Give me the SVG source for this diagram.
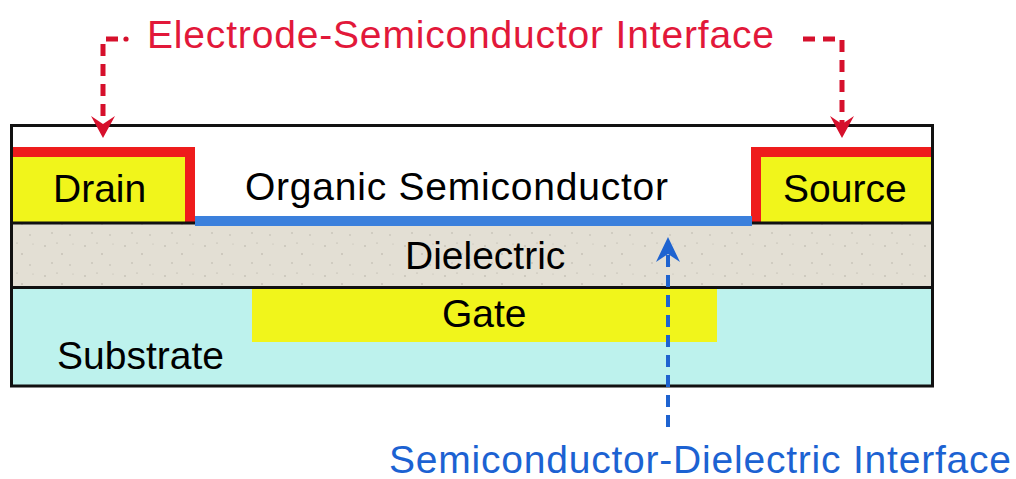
<svg xmlns="http://www.w3.org/2000/svg" width="1016" height="479" viewBox="0 0 1016 479">
<defs>
<style>
.t{font-family:"Liberation Sans",Arial,sans-serif;font-size:39px;fill:#000}
.yel{fill:#f1f51b}
.red{fill:#ee1c1c}
.ln{stroke:#111;stroke-width:3;fill:none}
.dr{stroke:#d6102c;stroke-width:5;fill:none;stroke-dasharray:12 8}
.db{stroke:#1e63d0;stroke-width:4;fill:none;stroke-dasharray:12 8}
</style>
<pattern id="speck" width="40" height="30" patternUnits="userSpaceOnUse">
<rect width="40" height="30" fill="#e3dfd4"/>
<circle cx="5" cy="6" r="0.8" fill="#b5b0a5"/>
<circle cx="22" cy="14" r="0.7" fill="#a9a498"/>
<circle cx="33" cy="4" r="0.6" fill="#c0bbb0"/>
<circle cx="12" cy="23" r="0.7" fill="#b0ab9f"/>
<circle cx="30" cy="25" r="0.8" fill="#bdb8ad"/>
<circle cx="17" cy="3" r="0.5" fill="#a29d92"/>
</pattern>
</defs>
<rect width="1016" height="479" fill="#fff"/>
<g id="substrate">
<rect x="11" y="287" width="922" height="99" fill="#bdf2ed"/>
<text class="t" x="57" y="369">Substrate</text>
</g>
<g id="gate">
<rect x="252" y="288" width="465" height="54" class="yel"/>
<text class="t" x="442" y="327">Gate</text>
</g>
<g id="dielectric">
<rect x="11" y="223" width="922" height="64" fill="url(#speck)"/>
<text class="t" x="405" y="269">Dielectric</text>
</g>
<g id="organic-semiconductor">
<rect x="11" y="125" width="922" height="98" fill="#fff"/>
<text class="t" x="245" y="200" font-size="40" textLength="423">Organic Semiconductor</text>
</g>
<g id="drain">
<rect x="11" y="157" width="174" height="66" class="yel"/>
<rect x="11" y="147" width="184" height="10" class="red"/>
<rect x="185" y="147" width="10" height="76" class="red"/>
<line x1="11" y1="223" x2="195" y2="223" class="ln"/>
<text class="t" x="53" y="202">Drain</text>
</g>
<g id="source">
<rect x="761" y="157" width="171" height="66" class="yel"/>
<rect x="751" y="147" width="181" height="10" class="red"/>
<rect x="751" y="147" width="10" height="76" class="red"/>
<line x1="751" y1="223" x2="933" y2="223" class="ln"/>
<text class="t" x="783" y="202">Source</text>
</g>
<g id="interface-line">
<rect x="195" y="216" width="557" height="10" fill="#3b80dc"/>
</g>
<g id="frame">
<line x1="11" y1="287.5" x2="933" y2="287.5" class="ln"/>
<rect x="11.5" y="125.5" width="921" height="260.5" class="ln"/>
</g>
<g id="electrode-label">
<text x="147" y="48" font-family="Liberation Sans,Arial,sans-serif" font-size="39" fill="#e2183a" textLength="627">Electrode-Semiconductor Interface</text>
</g>
<g id="dielectric-label">
<text x="389" y="473" font-family="Liberation Sans,Arial,sans-serif" font-size="39" fill="#1c62d2" textLength="622">Semiconductor-Dielectric Interface</text>
</g>
<g id="connectors">
<circle cx="126" cy="39" r="2.6" fill="#d6102c"/>
<path d="M118 39 H103 V124" class="dr" stroke-dasharray="15 8 12 8 12 8 12 8 12 8 12"/>
<polygon points="103,138 91,116 103,124 115,116" fill="#d6102c"/>
<path d="M803 39 H842 V124" class="dr"/>
<polygon points="842,138 830,116 842,124 854,116" fill="#d6102c"/>
<path d="M668 427 V250" class="db"/>
<polygon points="668,237 656,262 668,254 680,262" fill="#1e63d0"/>
</g>
</svg>
